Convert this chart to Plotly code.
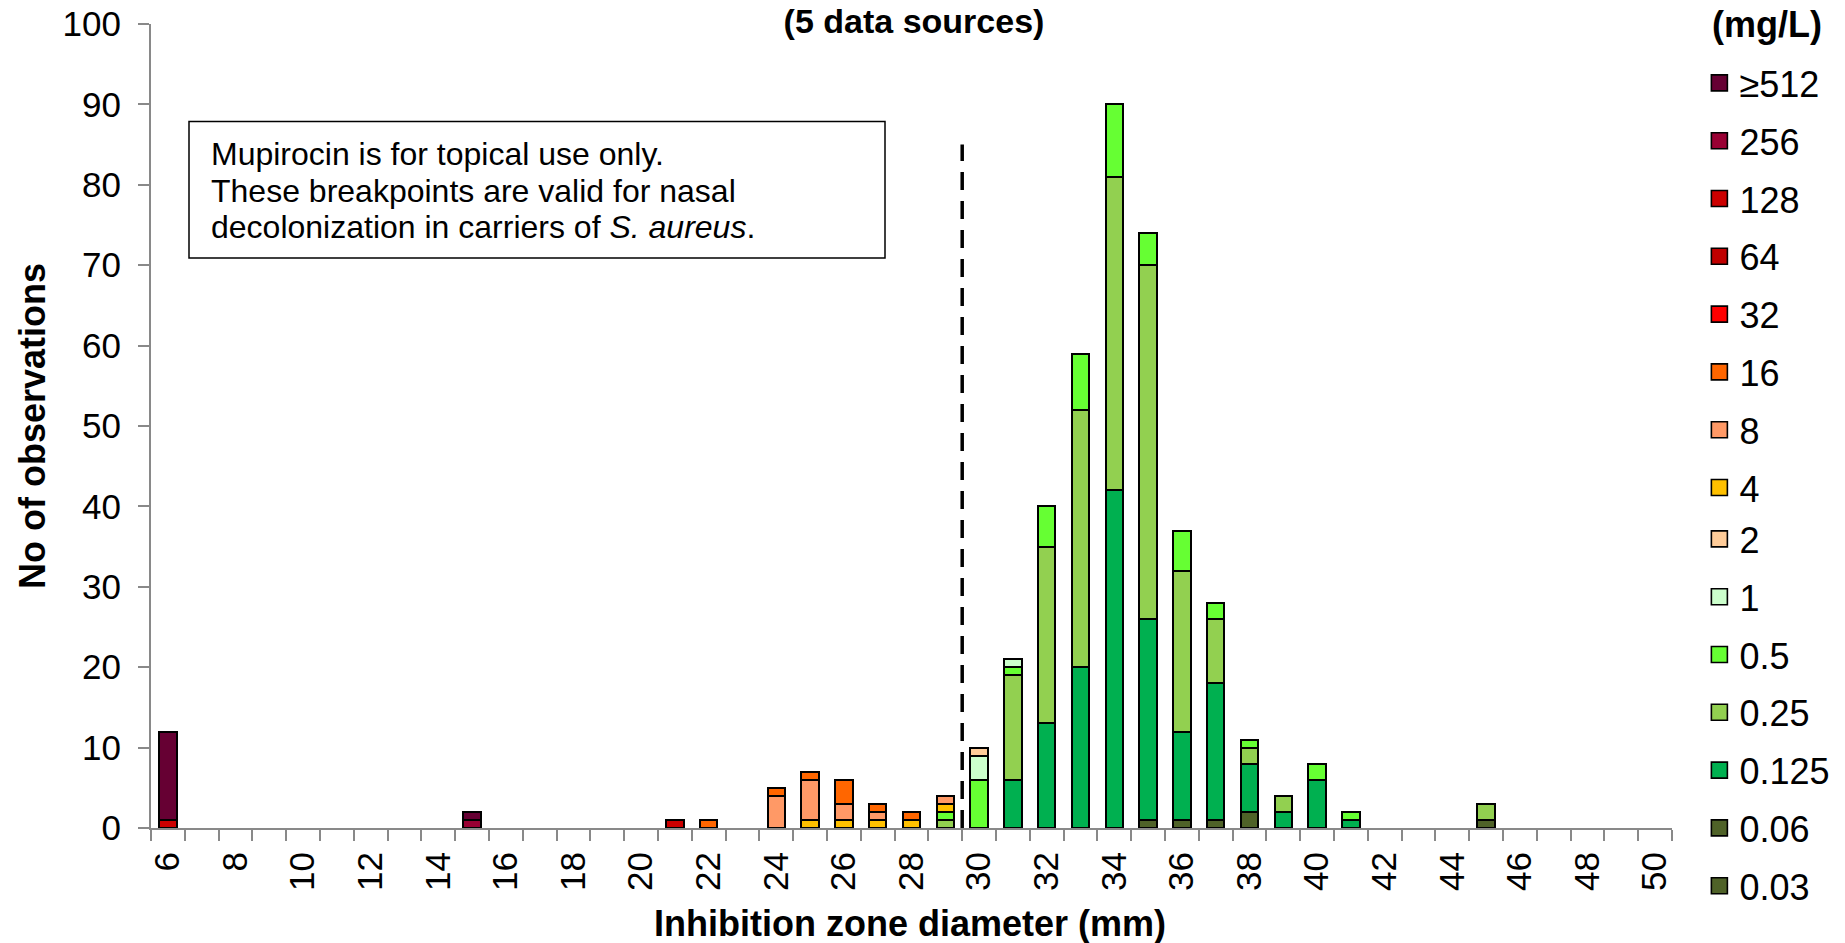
import plotly.graph_objects as go

# Inhibition zone diameters (mm), categories 6..50
zone_mm = [6, 7, 8, 9, 10, 11, 12, 13, 14, 15, 16, 17, 18, 19, 20,
           21, 22, 23, 24, 25, 26, 27, 28, 29, 30, 31, 32, 33, 34, 35,
           36, 37, 38, 39, 40, 41, 42, 43, 44, 45, 46, 47, 48, 49, 50]

tick_labels = ["6", "8", "10", "12", "14", "16", "18", "20", "22", "24", "26", "28",
               "30", "32", "34", "36", "38", "40", "42", "44", "46", "48", "50"]
tick_positions = [6, 8, 10, 12, 14, 16, 18, 20, 22, 24, 26, 28,
                  30, 32, 34, 36, 38, 40, 42, 44, 46, 48, 50]

# Counts per MIC (mg/L), one value per zone diameter (6..50)
mic_ge512 = [11,0,0,0,0, 0,0,0,0,1, 0,0,0,0,0, 0,0,0,0,0, 0,0,0,0,0, 0,0,0,0,0, 0,0,0,0,0, 0,0,0,0,0, 0,0,0,0,0]
mic_256   = [0,0,0,0,0, 0,0,0,0,1, 0,0,0,0,0, 0,0,0,0,0, 0,0,0,0,0, 0,0,0,0,0, 0,0,0,0,0, 0,0,0,0,0, 0,0,0,0,0]
mic_128   = [1,0,0,0,0, 0,0,0,0,0, 0,0,0,0,0, 1,0,0,0,0, 0,0,0,0,0, 0,0,0,0,0, 0,0,0,0,0, 0,0,0,0,0, 0,0,0,0,0]
mic_64    = [0,0,0,0,0, 0,0,0,0,0, 0,0,0,0,0, 0,0,0,0,0, 0,0,0,0,0, 0,0,0,0,0, 0,0,0,0,0, 0,0,0,0,0, 0,0,0,0,0]
mic_32    = [0,0,0,0,0, 0,0,0,0,0, 0,0,0,0,0, 0,0,0,0,0, 0,0,0,0,0, 0,0,0,0,0, 0,0,0,0,0, 0,0,0,0,0, 0,0,0,0,0]
mic_16    = [0,0,0,0,0, 0,0,0,0,0, 0,0,0,0,0, 0,1,0,1,1, 3,1,1,0,0, 0,0,0,0,0, 0,0,0,0,0, 0,0,0,0,0, 0,0,0,0,0]
mic_8     = [0,0,0,0,0, 0,0,0,0,0, 0,0,0,0,0, 0,0,0,4,5, 2,1,0,1,0, 0,0,0,0,0, 0,0,0,0,0, 0,0,0,0,0, 0,0,0,0,0]
mic_4     = [0,0,0,0,0, 0,0,0,0,0, 0,0,0,0,0, 0,0,0,0,1, 1,1,1,1,0, 0,0,0,0,0, 0,0,0,0,0, 0,0,0,0,0, 0,0,0,0,0]
mic_2     = [0,0,0,0,0, 0,0,0,0,0, 0,0,0,0,0, 0,0,0,0,0, 0,0,0,0,1, 0,0,0,0,0, 0,0,0,0,0, 0,0,0,0,0, 0,0,0,0,0]
mic_1     = [0,0,0,0,0, 0,0,0,0,0, 0,0,0,0,0, 0,0,0,0,0, 0,0,0,0,3, 1,0,0,0,0, 0,0,0,0,0, 0,0,0,0,0, 0,0,0,0,0]
mic_0_5   = [0,0,0,0,0, 0,0,0,0,0, 0,0,0,0,0, 0,0,0,0,0, 0,0,0,1,6, 1,5,7,9,4, 5,2,1,0,2, 1,0,0,0,0, 0,0,0,0,0]
mic_0_25  = [0,0,0,0,0, 0,0,0,0,0, 0,0,0,0,0, 0,0,0,0,0, 0,0,0,1,0, 13,22,32,39,44, 20,8,2,2,0, 0,0,0,0,2, 0,0,0,0,0]
mic_0_125 = [0,0,0,0,0, 0,0,0,0,0, 0,0,0,0,0, 0,0,0,0,0, 0,0,0,0,0, 6,13,20,42,25, 11,17,6,2,6, 1,0,0,0,0, 0,0,0,0,0]
mic_0_06  = [0,0,0,0,0, 0,0,0,0,0, 0,0,0,0,0, 0,0,0,0,0, 0,0,0,0,0, 0,0,0,0,1, 1,1,2,0,0, 0,0,0,0,1, 0,0,0,0,0]
mic_0_03  = [0,0,0,0,0, 0,0,0,0,0, 0,0,0,0,0, 0,0,0,0,0, 0,0,0,0,0, 0,0,0,0,0, 0,0,0,0,0, 0,0,0,0,0, 0,0,0,0,0]

# Stacking order: bottom (lowest MIC) to top (highest MIC)
mic_names = ["0.03", "0.06", "0.125", "0.25", "0.5", "1", "2", "4", "8", "16",
             "32", "64", "128", "256", "≥512"]
mic_values = [mic_0_03, mic_0_06, mic_0_125, mic_0_25, mic_0_5, mic_1, mic_2, mic_4,
              mic_8, mic_16, mic_32, mic_64, mic_128, mic_256, mic_ge512]
mic_colors = ["#4F6228", "#4F6228", "#00B050", "#92D050", "#66FF33", "#CCFFCC", "#FFCC99",
              "#FFC000", "#FF9966", "#FF6600", "#FF0000", "#C00000", "#CC0000", "#990033",
              "#660033"]

breakpoint_mm = 29.5
breakpoint_line_top = 85

title_text = "<b>(5 data sources)</b>"
x_title = "<b>Inhibition zone diameter (mm)</b>"
y_title = "<b>No of observations</b>"
legend_title = "<b>(mg/L)</b>"
note_lines = ["Mupirocin is for topical use only.",
              "These breakpoints are valid for nasal",
              "decolonization in carriers of <i>S. aureus</i>."]

FONT = "Liberation Sans, Arial, sans-serif"
W, H = 1845, 943
L, R, T, B = 151, 173, 24, 115
plot_w = W - L - R
plot_h = H - T - B

fig = go.Figure()

for name, vals, col in zip(mic_names, mic_values, mic_colors):
    fig.add_trace(go.Bar(
        x=zone_mm, y=[v if v else None for v in vals], name=name,
        marker=dict(color=col, line=dict(color="black", width=2)),
        width=0.52, showlegend=False, legendgroup=name,
    ))

# legend proxies (top to bottom: ≥512 ... 0.03), split over two legend boxes
for i, (name, col) in enumerate(zip(mic_names[::-1], mic_colors[::-1])):
    fig.add_trace(go.Scatter(
        x=[None], y=[None], mode="markers", name=name, legendgroup=name,
        legend="legend" if i < 8 else "legend2",
        marker=dict(symbol="square", size=18, color=col, line=dict(color="black", width=1.6)),
        showlegend=True,
    ))

fig.add_shape(type="line", xref="x", yref="y", x0=breakpoint_mm, x1=breakpoint_mm,
              y0=0, y1=breakpoint_line_top,
              line=dict(color="black", width=3.5, dash="18px,11px"))

def ypix_to_data(py):
    return (T + plot_h - py) / plot_h * 100

def xpix_to_paper(px):
    return (px - L) / plot_w

def ypix_to_paper(py):
    return (T + plot_h - py) / plot_h

fig.add_shape(type="rect", xref="paper", yref="y",
              x0=xpix_to_paper(189), x1=xpix_to_paper(885),
              y0=ypix_to_data(258), y1=ypix_to_data(121.5),
              line=dict(color="black", width=1.5), fillcolor="white", layer="above")
for i, line in enumerate(note_lines):
    fig.add_annotation(text=line, xref="paper", yref="y",
                       x=xpix_to_paper(209), y=ypix_to_data(154 + 36.5 * i),
                       xanchor="left", yanchor="middle", showarrow=False,
                       font=dict(family=FONT, size=32, color="black"))

fig.add_annotation(text=legend_title, xref="paper", yref="paper",
                   x=xpix_to_paper(1710), y=ypix_to_paper(24),
                   xanchor="left", yanchor="middle", showarrow=False,
                   font=dict(family=FONT, size=36, color="black"))

# axis titles
fig.add_annotation(text=x_title, xref="paper", yref="paper",
                   x=xpix_to_paper(910), y=ypix_to_paper(924),
                   xanchor="center", yanchor="middle", showarrow=False,
                   font=dict(family=FONT, size=36, color="black"))

legend_common = dict(font=dict(family=FONT, size=36, color="black"),
                     x=1.018, xanchor="left", yref="container", yanchor="top",
                     traceorder="grouped", tracegroupgap=8,
                     bgcolor="rgba(0,0,0,0)", itemsizing="trace")

fig.update_layout(
    width=W, height=H,
    barmode="stack",
    plot_bgcolor="white", paper_bgcolor="white",
    margin=dict(l=L, r=R, t=T, b=B, autoexpand=False),
    font=dict(family=FONT, color="black"),
    title=dict(text=title_text, x=914 / W, xanchor="center", y=1 - 21 / H, yanchor="middle",
               font=dict(family=FONT, size=34, color="black")),
    legend=dict(y=1 - 53 / H, **legend_common),
    legend2=dict(y=1 - 509 / H, **legend_common),
    xaxis=dict(
        range=[5.5, 50.5], tickvals=tick_positions, ticktext=tick_labels,
        tickangle=-90, ticks="", ticklabelstandoff=8,
        minor=dict(tick0=5.5, dtick=1, ticks="outside", ticklen=11, tickcolor="#898989", tickwidth=2),
        showline=True, linecolor="#898989", linewidth=2, showgrid=False, zeroline=False,
        tickfont=dict(family=FONT, size=35, color="black"),
        automargin=False,
    ),
    yaxis=dict(
        range=[0, 100], dtick=10, ticks="outside", ticklen=11, tickcolor="#898989", tickwidth=2,
        ticklabelstandoff=10,
        showline=True, linecolor="#898989", linewidth=2, showgrid=False, zeroline=False,
        tickfont=dict(family=FONT, size=35, color="black"),
        title=dict(text=y_title, font=dict(family=FONT, size=36, color="black"), standoff=6),
        automargin=False,
    ),
)

fig.write_html("out.html", config={"displayModeBar": False},
               post_script="document.body.style.margin='0';")
